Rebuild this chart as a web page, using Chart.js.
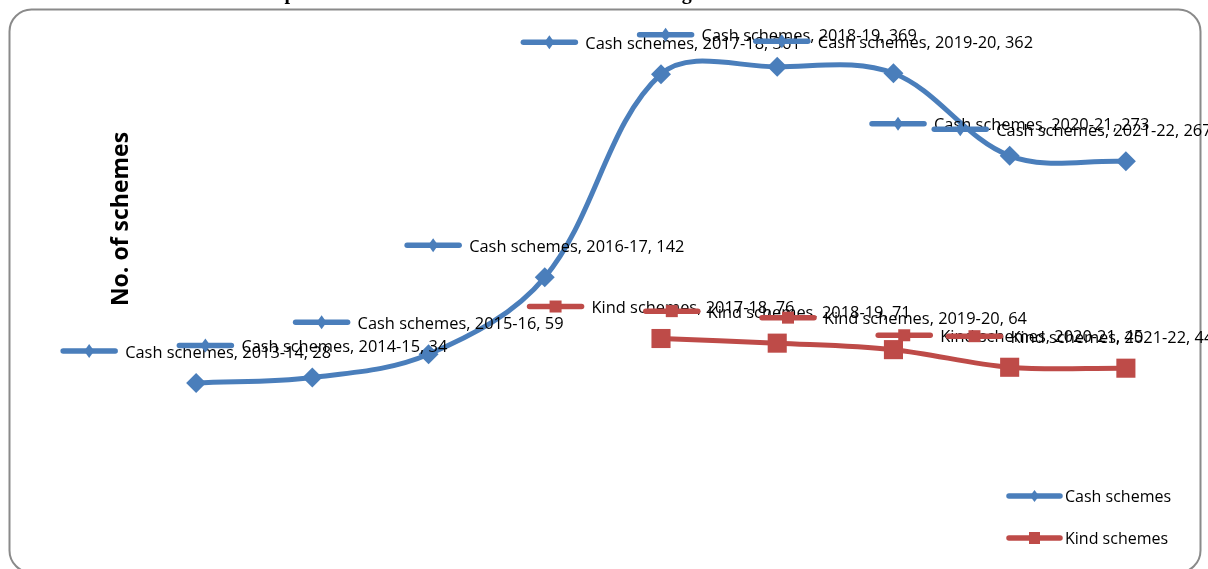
<!DOCTYPE html>
<html>
<head>
<meta charset="utf-8">
<title>Cash and Kind schemes</title>
<script src="https://cdn.jsdelivr.net/npm/chart.js@4.4.1/dist/chart.umd.min.js"></script>
<style>
    html, body { margin: 0; padding: 0; background: #fff; }
    #wrap { width: 1208px; height: 569px; }
</style>
</head>
<body>
<div id="wrap"><canvas id="schemes-chart" width="1208" height="569"></canvas></div>
<script>
// 연도별 제도 수
const years = ['2013-14', '2014-15', '2015-16', '2016-17', '2017-18', '2018-19', '2019-20', '2020-21', '2021-22'];
const cashSchemes = [28, 34, 59, 142, 361, 369, 362, 273, 267];
const kindSchemes = [null, null, null, null, 76, 71, 64, 45, 44];

const CASH_COLOR = '#4A7EBB';
const KIND_COLOR = '#BE4B48';
const LABEL_FONT = '16.4px "Open Sans", sans-serif';

// 라벨 가로 이동 (오른쪽 끝 라벨만)
const labelNudge = { 0: { 8: -54 }, 1: { 8: -46 } };

// 범례 키 (선 + 마커)
function drawKey(ctx, x, y, len, color, shape, w, h) {
    ctx.save();
    ctx.strokeStyle = color;
    ctx.fillStyle = color;
    ctx.lineWidth = 5.5;
    ctx.lineCap = 'round';
    ctx.beginPath();
    ctx.moveTo(x + 2, y);
    ctx.lineTo(x + len - 2, y);
    ctx.stroke();
    const cx = x + len / 2;
    ctx.beginPath();
    if (shape === 'diamond') {
        ctx.moveTo(cx, y - h);
        ctx.lineTo(cx + w, y);
        ctx.lineTo(cx, y + h);
        ctx.lineTo(cx - w, y);
        ctx.closePath();
    } else {
        ctx.rect(cx - w, y - h, w * 2, h * 2);
    }
    ctx.fill();
    ctx.restore();
}

const frameAndTitle = {
    id: 'frameAndTitle',
    beforeDraw(chart) {
        const ctx = chart.ctx;
        ctx.save();
        ctx.fillStyle = '#fff';
        ctx.fillRect(0, 0, chart.width, chart.height);
        // 둥근 외곽선
        ctx.strokeStyle = '#8a8a8a';
        ctx.lineWidth = 2;
        ctx.beginPath();
        ctx.roundRect(9.5, 9.5, 1191, 563, 22);
        ctx.stroke();
        // 제목 (위쪽이 잘려 있음)
        const title = 'Comparison of Cash and Kind DBT Schemes during 2013-14 to 2021-22';
        ctx.font = 'bold 20px "Liberation Serif", serif';
        ctx.fillStyle = '#000';
        ctx.textAlign = 'left';
        ctx.textBaseline = 'alphabetic';
        const lead = ctx.measureText('Com').width + ctx.measureText('p').width / 2;
        ctx.fillText(title, 290 - lead, -1);
        // 세로축 제목
        ctx.translate(121, 219);
        ctx.rotate(-Math.PI / 2);
        ctx.font = 'bold 23px "Open Sans", sans-serif';
        ctx.textAlign = 'center';
        ctx.textBaseline = 'middle';
        ctx.fillText('No. of schemes', 0, 0);
        ctx.restore();
    }
};

const pointLabels = {
    id: 'pointLabels',
    afterDatasetsDraw(chart) {
        const ctx = chart.ctx;
        ctx.save();
        ctx.font = LABEL_FONT;
        ctx.fillStyle = '#000';
        ctx.textBaseline = 'middle';
        chart.data.datasets.forEach((ds, di) => {
            const meta = chart.getDatasetMeta(di);
            const shape = di === 0 ? 'diamond' : 'square';
            meta.data.forEach((pt, i) => {
                const v = ds.data[i];
                if (v === null || v === undefined) return;
                const text = `${ds.label}, ${years[i]}, ${v}`;
                const total = 56 + 8 + ctx.measureText(text).width;
                const shift = (labelNudge[di] && labelNudge[di][i]) || 0;
                const left = pt.x - total / 2 + shift;
                const y = pt.y - 32;
                if (shape === 'diamond') drawKey(ctx, left, y, 56, ds.borderColor, shape, 5, 7);
                else drawKey(ctx, left, y, 56, ds.borderColor, shape, 6, 6);
                ctx.fillText(text, left + 64, y + 2);
            });
        });
        // 범례
        ctx.font = '16px "Open Sans", sans-serif';
        drawKey(ctx, 1007, 496, 55, CASH_COLOR, 'diamond', 4.5, 6);
        drawKey(ctx, 1007, 538, 55, KIND_COLOR, 'square', 5.5, 6);
        ctx.fillText('Cash schemes', 1065, 497);
        ctx.fillText('Kind schemes', 1065, 539);
        ctx.restore();
    }
};

const ctx = document.getElementById('schemes-chart').getContext('2d');
window.schemesChart = new Chart(ctx, {
    type: 'line',
    data: {
        labels: years,
        datasets: [
            {
                label: 'Cash schemes',
                data: cashSchemes,
                borderColor: CASH_COLOR,
                backgroundColor: CASH_COLOR,
                borderWidth: 5,
                tension: 0.35,
                pointStyle: 'rectRot',
                pointRadius: 10,
                pointBorderWidth: 0,
                pointBackgroundColor: CASH_COLOR,
                clip: false
            },
            {
                label: 'Kind schemes',
                data: kindSchemes,
                borderColor: KIND_COLOR,
                backgroundColor: KIND_COLOR,
                borderWidth: 5,
                tension: 0.35,
                pointStyle: 'rect',
                pointRadius: 13.5,
                pointBorderWidth: 0,
                pointBackgroundColor: KIND_COLOR,
                clip: false
            }
        ]
    },
    options: {
        responsive: false,
        animation: false,
        devicePixelRatio: 1,
        layout: { padding: { left: 138, right: 24, top: 38, bottom: 160 } },
        scales: {
            x: { display: false, offset: true },
            y: { display: false, min: 0, max: 400 }
        },
        plugins: {
            legend: { display: false },
            tooltip: { enabled: false }
        }
    },
    plugins: [frameAndTitle, pointLabels]
});
</script>
</body>
</html>
